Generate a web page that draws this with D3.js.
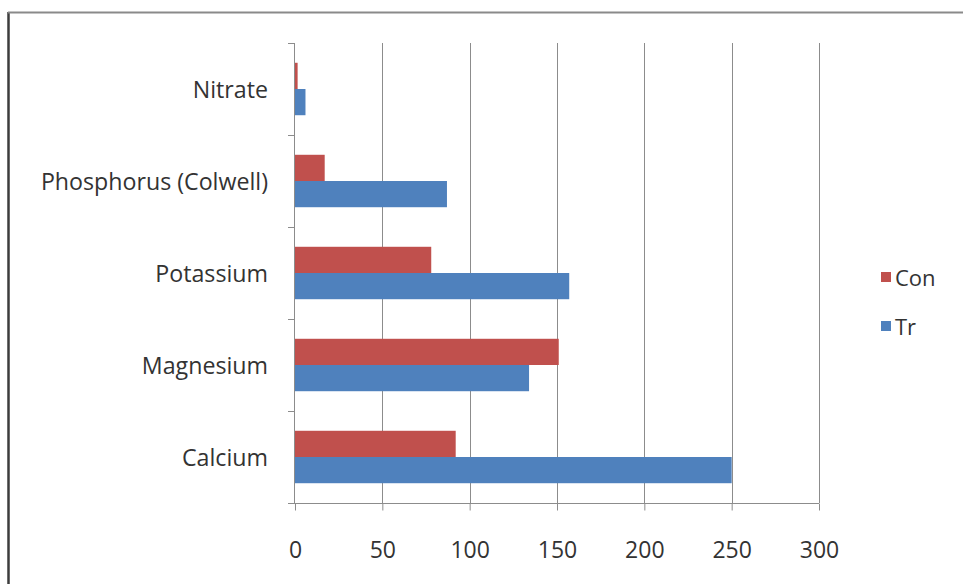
<!DOCTYPE html>
<html>
<head>
<meta charset="utf-8">
<script src="https://cdn.jsdelivr.net/npm/d3@7/dist/d3.min.js"></script>
<style>
  html, body { margin: 0; padding: 0; background: #fff; }
  svg { display: block; }
  text { font-family: "Open Sans", "Noto Sans", sans-serif; fill: #333; }
</style>
</head>
<body>
<svg id="chart" width="963" height="584"></svg>
<script>
// Soil nutrient levels, control vs treated
const categories = ["Nitrate", "Phosphorus (Colwell)", "Potassium", "Magnesium", "Calcium"];
const seriesNames = ["Con", "Tr"];
const conValues = [1.5, 17, 78, 151, 92];
const trValues = [6, 87, 157, 134, 250];
const xTicks = [0, 50, 100, 150, 200, 250, 300];
const colors = ["#C0504D", "#4F81BD"];

const svg = d3.select("#chart");

// outer frame
svg.append("line").attr("x1", 8.5).attr("x2", 8.5).attr("y1", 12).attr("y2", 584)
  .attr("stroke", "#3c3c3c").attr("stroke-width", 2.5);
svg.append("line").attr("x1", 8).attr("x2", 963).attr("y1", 12.5).attr("y2", 12.5)
  .attr("stroke", "#8a8a8a").attr("stroke-width", 2);

const plot = { left: 295, right: 819, top: 43, bottom: 503 };

const x = d3.scaleLinear().domain([0, 300]).range([plot.left, plot.right]);
const y = d3.scaleBand().domain(categories).range([plot.top, plot.bottom])
  .paddingInner(0.43).paddingOuter(0.215);
const ySub = d3.scaleBand().domain(seriesNames).range([0, y.bandwidth()]);

const rows = categories.map((c, i) => ({ cat: c, values: [conValues[i], trValues[i]] }));

// vertical gridlines
svg.append("g").selectAll("line").data(xTicks.slice(1)).join("line")
  .attr("x1", d => Math.round(x(d)) + 0.5).attr("x2", d => Math.round(x(d)) + 0.5)
  .attr("y1", plot.top).attr("y2", plot.bottom)
  .attr("stroke", "#8c8c8c").attr("stroke-width", 1);

// bars
const groups = svg.append("g").selectAll("g").data(rows).join("g")
  .attr("transform", d => `translate(0,${y(d.cat)})`);
groups.selectAll("rect").data(d => d.values.map((v, j) => ({ v, s: seriesNames[j], j })))
  .join("rect")
  .attr("x", x(0))
  .attr("y", d => ySub(d.s))
  .attr("width", d => x(d.v) - x(0))
  .attr("height", ySub.bandwidth())
  .attr("fill", d => colors[d.j]);

// x axis
const xAxis = d3.axisBottom(x).tickValues(xTicks).tickSize(7).tickPadding(31).tickFormat(d3.format("d"));
const gx = svg.append("g").attr("transform", `translate(0,${plot.bottom + 0.5})`).call(xAxis);
gx.select(".domain").attr("stroke", "#8c8c8c").attr("d", `M${plot.left - 7},0H${plot.right}`);
gx.selectAll(".tick line").attr("stroke", "#8c8c8c");
gx.selectAll(".tick text").attr("font-size", 23).style("font-family", "\"Open Sans\", sans-serif").attr("fill", "#333");

// y axis: line with ticks at category boundaries
const gy = svg.append("g");
gy.append("line").attr("x1", plot.left - 0.5).attr("x2", plot.left - 0.5)
  .attr("y1", plot.top).attr("y2", plot.bottom).attr("stroke", "#8c8c8c");
const step = y.step();
const bounds = d3.range(categories.length + 1).map(i => plot.top + i * step);
gy.selectAll("line.tk").data(bounds).join("line").attr("class", "tk")
  .attr("x1", plot.left - 7).attr("x2", plot.left)
  .attr("y1", d => Math.round(d) + 0.5).attr("y2", d => Math.round(d) + 0.5)
  .attr("stroke", "#8c8c8c");
gy.selectAll("text").data(categories).join("text")
  .attr("x", 268).attr("y", d => y(d) + y.bandwidth() / 2)
  .attr("text-anchor", "end").attr("dominant-baseline", "central")
  .attr("font-size", 23.2)
  .text(d => d);

// legend
const legend = svg.append("g");
const legendY = [277, 326];
seriesNames.forEach((s, i) => {
  legend.append("rect").attr("x", 881).attr("y", legendY[i] - 5).attr("width", 10).attr("height", 10)
    .attr("fill", colors[i]);
  legend.append("text").attr("x", 895).attr("y", legendY[i]).attr("dominant-baseline", "central")
    .attr("font-size", 22).text(s);
});
</script>
</body>
</html>
